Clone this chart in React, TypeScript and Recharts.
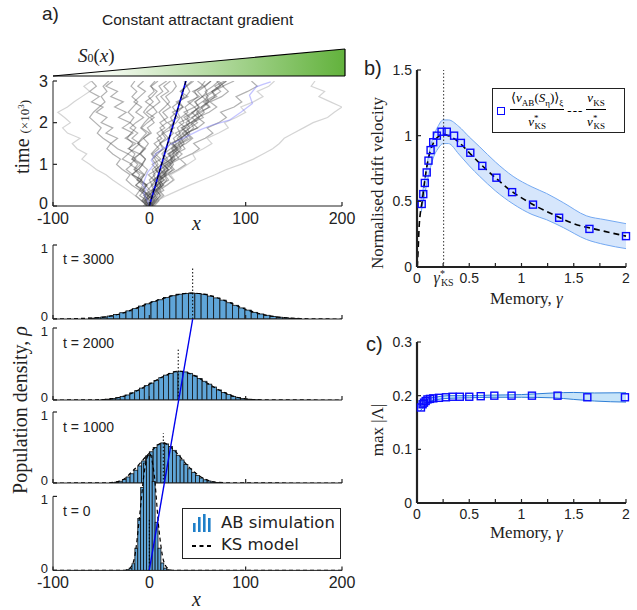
import React from 'react';
import { ComposedChart, Line, Bar, Area, Scatter, XAxis, YAxis, ReferenceLine } from 'recharts';

const SANS = '"Liberation Sans", Arial, sans-serif';
const SERIF = '"Liberation Serif", "DejaVu Serif", serif';
const INK = '#222';

// ---- panel a, top: trajectories (x vs time in 10^3) ----
const trajTimes = [0, 0.125, 0.25, 0.375, 0.5, 0.625, 0.75, 0.875, 1, 1.125, 1.25, 1.375, 1.5, 1.625, 1.75, 1.875, 2, 2.125, 2.25, 2.375, 2.5, 2.625, 2.75, 2.875, 3];
const traj01 = [0, -5, 3, -8, -2, -12, -6, -15, -9, -18, -10, -22, -14, -25, -17, -28, -20, -32, -24, -36, -27, -40, -33, -45, -38];
const traj02 = [2, 8, 4, 12, 7, 16, 10, 20, 14, 24, 19, 28, 22, 33, 27, 38, 31, 42, 36, 47, 40, 52, 45, 57, 50];
const traj03 = [-3, 2, -6, 1, -4, 5, -1, 8, 3, 12, 6, 16, 11, 20, 15, 26, 19, 30, 24, 35, 28, 40, 32, 38, 44];
const traj04 = [5, 10, 6, 15, 11, 20, 16, 26, 21, 31, 27, 37, 33, 43, 38, 50, 44, 56, 51, 63, 58, 70, 65, 77, 72];
const traj05 = [-6, -2, -10, -5, -14, -8, -18, -12, -7, -16, -10, -4, -12, -6, 0, -8, -2, 5, -3, 4, -4, 3, 8, 1, 6];
const traj06 = [1, 6, 12, 7, 15, 10, 19, 24, 18, 28, 34, 27, 38, 45, 39, 50, 57, 50, 62, 70, 63, 75, 82, 76, 88];
const traj07 = [-1, -6, -1, -8, -14, -8, -17, -24, -18, -28, -22, -33, -40, -33, -45, -38, -50, -44, -55, -48, -60, -52, -62, -55, -60];
const traj08 = [3, 9, 15, 10, 18, 25, 20, 30, 38, 32, 44, 52, 46, 58, 66, 60, 72, 80, 74, 88, 96, 90, 102, 112, 106];
const traj09 = [-4, 0, -5, 3, 9, 4, 12, 6, 14, 9, 3, 10, 5, 13, 8, 16, 11, 19, 14, 22, 17, 12, 20, 15, 22];
const traj10 = [0, -4, 2, 8, 3, 11, 17, 12, 20, 26, 21, 29, 24, 32, 39, 33, 42, 36, 45, 52, 47, 55, 50, 58, 64];
const traj11 = [0, 8, 18, 30, 42, 55, 68, 80, 95, 108, 118, 128, 135, 140, 150, 160, 170, 185, 192, 200, 188, 176, 182, 168, 172];
const traj12 = [0, -8, -15, -22, -30, -38, -45, -55, -62, -70, -65, -75, -80, -72, -85, -90, -82, -88, -95, -85, -78, -70, -62, -68, -60];
const traj13 = [0, 5, -2, 6, 12, 6, 14, 20, 14, 22, 30, 24, 32, 40, 34, 42, 50, 44, 54, 62, 56, 66, 74, 68, 78];
const traj14 = [-2, -8, -3, -10, -4, -12, -18, -12, -20, -14, -22, -16, -10, -18, -12, -20, -14, -6, -14, -8, -16, -10, -4, -12, -6];
const traj15 = [4, 0, 7, 2, 9, 15, 9, 17, 23, 16, 24, 30, 24, 33, 40, 34, 43, 50, 44, 54, 61, 55, 65, 72, 80];
const traj16 = [1, 7, 14, 9, 18, 26, 22, 32, 40, 48, 45, 56, 65, 60, 72, 82, 78, 90, 100, 95, 108, 118, 112, 124, 130];
const traj17 = [0, 3, -1, 4, 8, 5, 10, 7, 12, 16, 13, 18, 22, 19, 25, 21, 28, 32, 29, 35, 31, 38, 42, 39, 46];
const traj18 = [-2, -5, -1, -6, -3, -9, -5, -11, -7, -4, -9, -5, -1, -6, 2, -2, 5, 1, 8, 4, 11, 7, 14, 10, 18];
const traj19 = [1, 4, 9, 6, 12, 9, 15, 19, 16, 22, 26, 23, 29, 34, 31, 37, 42, 39, 46, 51, 48, 55, 60, 57, 64];
const traj20 = [0, -3, 2, -2, 3, 0, 6, 3, 9, 6, 2, 7, 12, 8, 15, 11, 18, 14, 10, 16, 21, 17, 24, 28, 25];
const traj21 = [2, 6, 3, 9, 14, 11, 18, 15, 22, 27, 24, 31, 36, 33, 40, 46, 43, 51, 57, 54, 62, 68, 65, 73, 80];
const traj22 = [-3, -7, -4, -10, -7, -13, -10, -16, -12, -18, -15, -21, -17, -23, -19, -14, -20, -16, -22, -17, -12, -18, -13, -19, -15];
const traj23 = [4, 1, 6, 3, 8, 13, 10, 16, 12, 19, 15, 22, 28, 25, 32, 29, 36, 33, 40, 37, 44, 50, 47, 54, 58];
const traj24 = [-1, 3, 0, 5, 2, 7, 4, 10, 7, 3, 9, 14, 11, 17, 13, 20, 25, 22, 28, 24, 31, 36, 33, 39, 36];
const traj25 = [0, -4, -1, -7, -3, -9, -5, -2, -8, -4, -10, -6, -12, -8, -3, -9, -5, 0, -6, -2, 4, -1, 5, 2, 9];
const traj26 = [3, 7, 11, 8, 14, 18, 15, 21, 25, 22, 28, 33, 30, 37, 42, 39, 46, 52, 49, 56, 62, 59, 67, 74, 70];
const traj27 = [-2, -8, -14, -10, -18, -24, -20, -28, -34, -30, -38, -44, -40, -48, -54, -50, -56, -62, -58, -52, -46, -50, -44, -48, -42];
const traj28 = [1, 5, 2, 7, 12, 8, 15, 11, 18, 24, 20, 27, 33, 29, 36, 42, 38, 45, 51, 47, 55, 61, 58, 66, 72];
const trajectories = [traj01, traj02, traj03, traj04, traj05, traj06, traj07, traj08, traj09, traj10, traj11, traj12, traj13, traj14,
  traj15, traj16, traj17, traj18, traj19, traj20, traj21, traj22, traj23, traj24, traj25, traj26, traj27, traj28];
const faintTraj = [10, 11, 15];

const blueTrajX = [0, -2, -6, -3, -7, -2, 5, 2, 7, 14, 24, 38, 52, 66, 83, 95, 107, 104, 111, 118, 126];
const blueTrajT = [0, 0.14, 0.3, 0.4, 0.5, 0.8, 1.0, 1.1, 1.26, 1.38, 1.5, 1.66, 1.82, 1.95, 2.06, 2.25, 2.46, 2.66, 2.86, 2.92, 2.98];
const driftTopX = [0, 38];
const driftTopT = [0, 3];

const gradX = [-100, 203];
const gradS = [0, 1];

// ---- panel a, histograms ----
const h3000x = [-60, -53.5, -47, -40.5, -34, -27.5, -21, -14.5, -8, -1.5, 5, 11.5, 18, 24.5, 31, 37.5, 44, 50.5, 57, 63.5, 70, 76.5, 83, 89.5, 96, 102.5, 109, 115.5, 122, 128.5, 135, 141.5, 148, 154.5];
const h3000y = [0.012, 0.018, 0.028, 0.04, 0.06, 0.085, 0.11, 0.14, 0.175, 0.205, 0.235, 0.26, 0.29, 0.315, 0.335, 0.345, 0.35, 0.345, 0.335, 0.31, 0.285, 0.255, 0.22, 0.185, 0.15, 0.12, 0.09, 0.068, 0.05, 0.035, 0.024, 0.016, 0.01, 0.006];
const h2000x = [-47.5, -42.5, -37.5, -32.5, -27.5, -22.5, -17.5, -12.5, -7.5, -2.5, 2.5, 7.5, 12.5, 17.5, 22.5, 27.5, 32.5, 37.5, 42.5, 47.5, 52.5, 57.5, 62.5, 67.5, 72.5, 77.5, 82.5, 87.5, 92.5, 97.5, 102.5, 107.5, 112.5];
const h2000y = [0.005, 0.012, 0.02, 0.032, 0.048, 0.07, 0.1, 0.13, 0.165, 0.2, 0.235, 0.27, 0.31, 0.345, 0.37, 0.39, 0.4, 0.39, 0.37, 0.335, 0.3, 0.26, 0.22, 0.18, 0.14, 0.105, 0.075, 0.05, 0.032, 0.02, 0.012, 0.006, 0.003];
const h1000x = [-38, -34, -30, -26, -22, -18, -14, -10, -6, -2, 2, 6, 10, 14, 18, 22, 26, 30, 34, 38, 42, 46, 50, 54, 58, 62, 66, 70, 74];
const h1000y = [0.005, 0.012, 0.025, 0.05, 0.085, 0.13, 0.18, 0.24, 0.31, 0.38, 0.44, 0.5, 0.54, 0.565, 0.55, 0.515, 0.46, 0.39, 0.325, 0.26, 0.2, 0.15, 0.105, 0.07, 0.045, 0.028, 0.016, 0.008, 0.004];
const h0x = [-22.5, -19.5, -16.5, -13.5, -10.5, -7.5, -4.5, -1.5, 1.5, 4.5, 7.5, 10.5, 13.5, 16.5, 19.5];
const h0y = [0.01, 0.03, 0.09, 0.3, 0.7, 1.12, 1.45, 1.55, 1.55, 1.2, 0.65, 0.3, 0.1, 0.03, 0.01];

const ks3000x = [-100, -90, -70, -50, -30, -10, 10, 30, 45, 60, 80, 100, 120, 140, 160, 180, 200];
const ks3000y = [0, 0.002, 0.008, 0.022, 0.07, 0.165, 0.26, 0.33, 0.35, 0.325, 0.24, 0.13, 0.055, 0.018, 0.005, 0.001, 0];
const ks2000x = [-100, -60, -40, -20, 0, 15, 30, 45, 60, 80, 100, 120, 200];
const ks2000y = [0, 0.002, 0.015, 0.085, 0.22, 0.33, 0.4, 0.35, 0.235, 0.09, 0.015, 0.002, 0];
const ks1000x = [-100, -45, -30, -15, 0, 14, 28, 40, 55, 70, 90, 200];
const ks1000y = [0, 0.002, 0.03, 0.2, 0.42, 0.565, 0.43, 0.24, 0.075, 0.01, 0.001, 0];
const ks0x = [-100, -25, -20, -15, -10, -5, 0, 5, 10, 15, 20, 25, 200];
const ks0y = [0, 0, 0.03, 0.2, 0.75, 1.35, 1.58, 1.3, 0.55, 0.12, 0.02, 0, 0];

const histMeans = [45, 30, 14.5, 0];
const driftHistX = [0, 45];
const driftHistT = [0, 3000];

// ---- panel b ----
const bSqG = [0.045, 0.06, 0.075, 0.093, 0.11, 0.13, 0.155, 0.19, 0.235, 0.285, 0.355, 0.42, 0.51, 0.625, 0.76, 0.91, 1.11, 1.36, 1.65, 2.0];
const bSqV = [0.48, 0.555, 0.64, 0.72, 0.81, 0.89, 0.95, 1.0, 1.03, 1.03, 1.0, 0.945, 0.87, 0.77, 0.68, 0.57, 0.475, 0.375, 0.29, 0.235];
const bKsG = [0.003, 0.012, 0.02, 0.035, 0.05, 0.065, 0.08, 0.1, 0.13, 0.16, 0.2, 0.25, 0.3, 0.4, 0.5, 0.6, 0.75, 0.9, 1.1, 1.3, 1.5, 1.75, 2.0];
const bKsV = [0, 0.15, 0.3, 0.43, 0.5, 0.6, 0.69, 0.79, 0.89, 0.95, 0.99, 1.01, 1.0, 0.95, 0.87, 0.79, 0.68, 0.58, 0.48, 0.4, 0.33, 0.28, 0.235];
const bBandG = [0.04, 0.06, 0.08, 0.1, 0.13, 0.16, 0.2, 0.25, 0.3, 0.4, 0.5, 0.6, 0.75, 0.92, 1.1, 1.24, 1.4, 1.62, 1.8, 2.0];
const bBandLo = [0.42, 0.5, 0.58, 0.66, 0.76, 0.84, 0.9, 0.94, 0.94, 0.86, 0.77, 0.69, 0.58, 0.48, 0.4, 0.36, 0.3, 0.21, 0.17, 0.14];
const bBandHi = [0.52, 0.6, 0.7, 0.8, 0.92, 1.0, 1.07, 1.12, 1.12, 1.07, 0.99, 0.915, 0.8, 0.69, 0.61, 0.56, 0.49, 0.39, 0.36, 0.33];
const gammaStar = 0.255;

// ---- panel c ----
const cSqG = [0.038, 0.054, 0.067, 0.083, 0.1, 0.124, 0.156, 0.21, 0.277, 0.34, 0.41, 0.5, 0.61, 0.74, 0.905, 1.1, 1.345, 1.63, 1.99];
const cSqV = [0.178, 0.184, 0.187, 0.19, 0.193, 0.194, 0.195, 0.196, 0.197, 0.198, 0.198, 0.198, 0.199, 0.2, 0.2, 0.2, 0.2, 0.197, 0.197];
const cBandG = [0.03, 0.05, 0.08, 0.12, 0.2, 0.3, 0.5, 0.7, 1.0, 1.3, 1.5, 1.7, 2.0];
const cBandLo = [0.171, 0.176, 0.183, 0.189, 0.193, 0.195, 0.196, 0.197, 0.197, 0.196, 0.193, 0.19, 0.188];
const cBandHi = [0.18, 0.186, 0.191, 0.195, 0.198, 0.2, 0.2, 0.201, 0.202, 0.205, 0.206, 0.205, 0.2055];

const xTicksA = [-100, 0, 100, 200];
const gTicks = [0, 0.25, 0.5, 0.75, 1, 1.25, 1.5, 1.75, 2];

// inward tick helpers
const xTick = (m: number, fs: number, label: (v: number) => React.ReactNode, noLine?: (v: number) => boolean) => (p: any) => {
  const ay = p.y - m;
  const val = p.payload.value;
  const lab = label(val);
  return (
    <g>
      {!(noLine && noLine(val)) && <line x1={p.x} x2={p.x} y1={ay} y2={ay - 4} stroke={INK} strokeWidth={1.2} />}
      {lab !== null && (
        <text x={p.x} y={ay + fs + 2} textAnchor="middle" fontFamily={SANS} fontSize={fs} fill={INK}>{lab}</text>
      )}
    </g>
  );
};
// nudge: shifts a label off its tick, used where stacked axes put 0 and 1 next to each other
const yTick = (m: number, fs: number, label: (v: number) => string, nudge: (v: number) => number = () => 0) => (p: any) => {
  const ax = p.x + m;
  const val = p.payload.value;
  return (
    <g>
      <line x1={ax} x2={ax + 4} y1={p.y} y2={p.y} stroke={INK} strokeWidth={1.2} />
      <text x={ax - 5} y={p.y + fs * 0.36 + nudge(val)} textAnchor="end" fontFamily={SANS} fontSize={fs} fill={INK}>{label(val)}</text>
    </g>
  );
};

const abs = (l: number, t: number): React.CSSProperties => ({ position: 'absolute', left: l, top: t });

function GradientWedge() {
  const data = gradX.map((x, i) => ({ x, s: gradS[i] }));
  return (
    <div style={abs(0, 39)}>
      <ComposedChart width={360} height={47} data={data} margin={{ top: 10, right: 15, bottom: 10, left: 53 }}>
        <defs>
          <linearGradient id="sgrad" x1="0" y1="0" x2="1" y2="0">
            <stop offset="0%" stopColor="#ffffff" />
            <stop offset="20%" stopColor="#f2f9ee" />
            <stop offset="100%" stopColor="#62b23c" />
          </linearGradient>
        </defs>
        <XAxis type="number" dataKey="x" domain={[-100, 203]} hide />
        <YAxis type="number" domain={[0, 1]} hide />
        <Area dataKey="s" type="linear" fill="url(#sgrad)" fillOpacity={1} stroke="#000" strokeWidth={1.2} isAnimationActive={false} />
        <ReferenceLine segment={[{ x: 203, y: 0 }, { x: 203, y: 1 }]} stroke="#000" strokeWidth={1.2} />
        <ReferenceLine y={0} stroke="#000" strokeWidth={1} />
      </ComposedChart>
    </div>
  );
}

function TrajPanel() {
  return (
    <div style={abs(0, 40)}>
      <ComposedChart width={360} height={200} margin={{ top: 41, right: 18, bottom: 4, left: 0 }} style={{ overflow: 'visible' }}>
        <XAxis type="number" dataKey="x" domain={[-100, 200]} ticks={xTicksA} interval={0} height={30} tickSize={0} tickMargin={6}
          tick={xTick(6, 16, (x) => String(x))} axisLine={{ stroke: INK }} allowDataOverflow />
        <YAxis type="number" dataKey="t" domain={[0, 3]} ticks={[0, 1, 2, 3]} interval={0} width={53} tickSize={0} tickMargin={6}
          tick={yTick(6, 16, (t) => String(t), (t) => (t === 0 ? -3 : 0))} axisLine={{ stroke: INK }} allowDataOverflow />
        {trajectories.map((tr, i) => (
          <Line key={i} data={tr.map((x, j) => ({ x, t: trajTimes[j] }))} dataKey="t" type="linear" dot={false}
            stroke={faintTraj.includes(i) ? '#b0b0b0' : '#444'} strokeOpacity={faintTraj.includes(i) ? 0.55 : 0.42} strokeWidth={1.2}
            isAnimationActive={false} />
        ))}
        <Line data={blueTrajX.map((x, j) => ({ x, t: blueTrajT[j] }))} dataKey="t" type="linear" dot={false}
          stroke="#7b7bff" strokeOpacity={0.45} strokeWidth={1.3} isAnimationActive={false} />
        <Line data={driftTopX.map((x, j) => ({ x, t: driftTopT[j] }))} dataKey="t" dot={false} stroke="#0000ee" strokeWidth={1.6} isAnimationActive={false} />
        <Line data={driftTopX.map((x, j) => ({ x, t: driftTopT[j] }))} dataKey="t" dot={false} stroke="#000" strokeWidth={1} strokeDasharray="4 3" isAnimationActive={false} />
      </ComposedChart>
    </div>
  );
}

type HistProps = { cx: number[]; cy: number[]; bin: number; kx: number[]; ky: number[]; mean: number; y1: number; y0: number; yMax: number; labels: boolean };

function HistPanel({ cx, cy, bin, kx, ky, mean, y1, y0, yMax, labels }: HistProps) {
  const unit = y0 - y1;
  const plotTop = y0 - yMax * unit;
  const data = cx.map((x, i) => ({ x, rho: cy[i] }));
  const ks = kx.map((x, i) => ({ x, rho: ky[i] }));
  const h = y0 - plotTop + 10 + 30;
  const w = bin * (289 / 300);
  return (
    <div style={abs(0, plotTop - 10)}>
      <ComposedChart width={360} height={h} data={data} barCategoryGap={0} barGap={0}
        margin={{ top: 10, right: 18, bottom: 0, left: 0 }} style={{ overflow: 'visible' }}>
        <XAxis type="number" dataKey="x" domain={[-100, 200]} ticks={xTicksA} interval={0} height={30} tickSize={0} tickMargin={6}
          tick={xTick(6, 16, (x) => (labels ? String(x) : null))} axisLine={{ stroke: INK }} allowDataOverflow />
        <YAxis type="number" dataKey="rho" domain={[0, yMax]} ticks={[0, 1]} interval={0} width={53} tickSize={0} tickMargin={6}
          tick={yTick(6, 13, (t) => String(t), (t) => (t === 0 ? (labels ? -2 : -3) : 3))} axisLine={false} allowDataOverflow />
        <Bar dataKey="rho" isAnimationActive={false}
          shape={(p: any) => (
            <rect x={p.x + p.width / 2 - w / 2} y={p.y} width={w} height={Math.max(p.height, 0)}
              fill="#5fa5d8" stroke="#111" strokeWidth={0.8} />
          )} />
        <Line data={ks} dataKey="rho" type="monotone" dot={false} stroke="#000" strokeWidth={1.2} strokeDasharray="4 3" isAnimationActive={false} />
        <ReferenceLine segment={[{ x: mean, y: 0 }, { x: mean, y: 0.7 }]} stroke="#000" strokeWidth={1} strokeDasharray="1.5 2" />
        <ReferenceLine segment={[{ x: -100, y: 0 }, { x: -100, y: 1 }]} stroke={INK} strokeWidth={1} />
      </ComposedChart>
    </div>
  );
}

function DriftOverlay() {
  const data = driftHistX.map((x, i) => ({ x, t: driftHistT[i] }));
  return (
    <div style={abs(0, 309)}>
      <ComposedChart width={360} height={271} data={data} margin={{ top: 10, right: 18, bottom: 10, left: 53 }}>
        <XAxis type="number" dataKey="x" domain={[-100, 200]} hide />
        <YAxis type="number" dataKey="t" domain={[0, 3000]} hide />
        <Line dataKey="t" dot={false} stroke="#0000ee" strokeWidth={1.4} isAnimationActive={false} />
      </ComposedChart>
    </div>
  );
}

const gammaStarLabel = (
  <tspan fontFamily={SERIF}>
    <tspan fontStyle="italic" fontSize={16}>γ</tspan>
    <tspan fontSize={10} dy={-6}>*</tspan>
    <tspan fontSize={10} dx={-4} dy={9}>KS</tspan>
  </tspan>
);

function PanelB() {
  const band = bBandG.map((g, i) => ({ g, band: [bBandLo[i], bBandHi[i]] }));
  const ks = bKsG.map((g, i) => ({ g, v: bKsV[i] }));
  const sq = bSqG.map((g, i) => ({ g, v: bSqV[i] }));
  const ticks = [0, 0.25, gammaStar, 0.5, 0.75, 1, 1.25, 1.5, 1.75, 2];
  return (
    <div style={abs(360, 50)}>
      <ComposedChart width={277} height={260} data={band} margin={{ top: 20, right: 11, bottom: 13, left: 0 }} style={{ overflow: 'visible' }}>
        <XAxis type="number" dataKey="g" domain={[0, 2]} ticks={ticks} interval={0} height={30} tickSize={0} tickMargin={6}
          tick={xTick(6, 14, (x) => (x === gammaStar ? gammaStarLabel : [0, 0.5, 1, 1.5, 2].includes(x) ? String(x) : null), (x) => x === gammaStar)}
          axisLine={{ stroke: INK, strokeWidth: 2.2 }} />
        <YAxis type="number" dataKey="v" domain={[0, 1.5]} ticks={[0, 0.5, 1, 1.5]} interval={0} width={57} tickSize={0} tickMargin={6}
          tick={yTick(6, 14, (t) => String(t))} axisLine={{ stroke: INK, strokeWidth: 2.2 }} />
        <Area dataKey="band" type="monotone" fill="#d6e6fc" fillOpacity={1} stroke="#74a9f2" strokeWidth={1} isAnimationActive={false} />
        <ReferenceLine segment={[{ x: gammaStar, y: 0 }, { x: gammaStar, y: 1.5 }]} stroke="#333" strokeWidth={1} strokeDasharray="1.5 2" />
        <Line data={ks} dataKey="v" type="monotone" dot={false} stroke="#000" strokeWidth={1.6} strokeDasharray="6 4" isAnimationActive={false} />
        <Scatter data={sq} isAnimationActive={false}
          shape={(p: any) => <rect x={p.cx - 3.5} y={p.cy - 3.5} width={7} height={7} fill="none" stroke="#0a0aff" strokeWidth={1.4} />} />
      </ComposedChart>
    </div>
  );
}

function PanelC() {
  const band = cBandG.map((g, i) => ({ g, band: [cBandLo[i], cBandHi[i]] }));
  const sq = cSqG.map((g, i) => ({ g, v: cSqV[i] }));
  return (
    <div style={abs(360, 320)}>
      <ComposedChart width={277} height={230} data={band} margin={{ top: 22, right: 11, bottom: 17, left: 0 }} style={{ overflow: 'visible' }}>
        <XAxis type="number" dataKey="g" domain={[0, 2]} ticks={gTicks} interval={0} height={30} tickSize={0} tickMargin={6}
          tick={xTick(6, 14, (x) => ([0, 0.5, 1, 1.5, 2].includes(x) ? String(x) : null))} axisLine={{ stroke: INK, strokeWidth: 2.2 }} />
        <YAxis type="number" dataKey="v" domain={[0, 0.3]} ticks={[0, 0.1, 0.2, 0.3]} interval={0} width={57} tickSize={0} tickMargin={6}
          tick={yTick(6, 14, (t) => String(t))} axisLine={{ stroke: INK, strokeWidth: 2.2 }} />
        <Area dataKey="band" type="monotone" fill="#c6e4f9" fillOpacity={1} stroke="#2f7fd6" strokeWidth={1} isAnimationActive={false} />
        <Scatter data={sq} isAnimationActive={false}
          shape={(p: any) => <rect x={p.cx - 3.5} y={p.cy - 3.5} width={7} height={7} fill="none" stroke="#0a0aff" strokeWidth={1.4} />} />
      </ComposedChart>
    </div>
  );
}

const txt = (l: number, t: number, extra: React.CSSProperties = {}): React.CSSProperties => ({
  position: 'absolute', left: l, top: t, whiteSpace: 'nowrap', lineHeight: 1, color: INK, ...extra,
});
const rot = (cx: number, cy: number, extra: React.CSSProperties = {}): React.CSSProperties => ({
  position: 'absolute', left: cx, top: cy, whiteSpace: 'nowrap', lineHeight: 1, color: INK,
  transform: 'translate(-50%, -50%) rotate(-90deg)', ...extra,
});

const Frac = ({ num, den }: { num: React.ReactNode; den: React.ReactNode }) => (
  <span style={{ display: 'inline-flex', flexDirection: 'column', alignItems: 'center', verticalAlign: 'middle' }}>
    <span style={{ borderBottom: '1px solid #000', padding: '0 1px 2px' }}>{num}</span>
    <span style={{ paddingTop: 2 }}>{den}</span>
  </span>
);
const sub = (s: string) => <sub style={{ fontSize: 9, fontStyle: 'normal' }}>{s}</sub>;
const vStar = (
  <span><i>v</i><sup style={{ fontSize: 9 }}>*</sup><sub style={{ fontSize: 9, marginLeft: -4 }}>KS</sub></span>
);

export default function App() {
  const histLabel = (t: number) => ({ position: 'absolute' as const, left: 63, top: t, fontFamily: SANS, fontSize: 14, color: INK, whiteSpace: 'nowrap' as const });
  return (
    <div style={{ position: 'absolute', left: 0, top: 0, width: 637, height: 610, background: '#fff', overflow: 'hidden' }}>
      <GradientWedge />
      <TrajPanel />
      <HistPanel cx={h3000x} cy={h3000y} bin={6.5} kx={ks3000x} ky={ks3000y} mean={histMeans[0]} y1={245} y0={319} yMax={1} labels={false} />
      <HistPanel cx={h2000x} cy={h2000y} bin={5} kx={ks2000x} ky={ks2000y} mean={histMeans[1]} y1={328} y0={400} yMax={1} labels={false} />
      <HistPanel cx={h1000x} cy={h1000y} bin={4} kx={ks1000x} ky={ks1000y} mean={histMeans[2]} y1={412} y0={483} yMax={1} labels={false} />
      <HistPanel cx={h0x} cy={h0y} bin={3} kx={ks0x} ky={ks0y} mean={histMeans[3]} y1={496} y0={570} yMax={1.6} labels={true} />
      <DriftOverlay />
      <PanelB />
      <PanelC />

      {/* panel a text */}
      <div style={txt(42, 4, { fontFamily: SANS, fontSize: 19 })}>a)</div>
      <div style={txt(102, 12, { fontFamily: SANS, fontSize: 15.5 })}>Constant attractant gradient</div>
      <div style={txt(78, 46, { fontFamily: SERIF, fontSize: 19 })}><i>S</i><span style={{ fontSize: 12 }}>0</span>(<i>x</i>)</div>
      <div style={rot(22, 137, { fontFamily: SERIF, fontSize: 20 })}>time <span style={{ fontSize: 13 }}>(×10<sup style={{ fontSize: 9 }}>3</sup>)</span></div>
      <div style={txt(192, 213, { fontFamily: SERIF, fontSize: 20, fontStyle: 'italic' })}>x</div>
      <div style={txt(192, 589, { fontFamily: SERIF, fontSize: 20, fontStyle: 'italic' })}>x</div>
      <div style={rot(20, 410, { fontFamily: SERIF, fontSize: 20 })}>Population density, <i>ρ</i></div>
      <div style={histLabel(251)}>t = 3000</div>
      <div style={histLabel(335)}>t = 2000</div>
      <div style={histLabel(419)}>t = 1000</div>
      <div style={histLabel(503)}>t = 0</div>

      {/* legend a */}
      <div style={{ position: 'absolute', left: 182, top: 508, width: 157, height: 49, border: '1px solid #222', background: '#fff' }}>
        <svg width={30} height={48} style={{ position: 'absolute', left: 6, top: 0 }}>
          <rect x={4} y={14} width={2.6} height={9} fill="#1f7fc8" />
          <rect x={9} y={8} width={2.6} height={15} fill="#1f7fc8" />
          <rect x={14} y={5} width={2.6} height={18} fill="#1f7fc8" />
          <rect x={19} y={9} width={2.6} height={14} fill="#1f7fc8" />
          <line x1={3} x2={24} y1={37} y2={37} stroke="#000" strokeWidth={2.2} strokeDasharray="4 3.5" />
        </svg>
        <div style={txt(38, 6, { fontFamily: '"DejaVu Sans", sans-serif', fontSize: 16.5 })}>AB simulation</div>
        <div style={txt(38, 28, { fontFamily: '"DejaVu Sans", sans-serif', fontSize: 16.5 })}>KS model</div>
      </div>

      {/* panel b text */}
      <div style={txt(364, 58, { fontFamily: SANS, fontSize: 20 })}>b)</div>
      <div style={rot(377, 183, { fontFamily: SERIF, fontSize: 17 })}>Normalised drift velocity</div>
      <div style={txt(490, 290, { fontFamily: SERIF, fontSize: 17 })}>Memory, <i>γ</i></div>
      <div style={{ position: 'absolute', left: 492, top: 88, width: 133, height: 45, border: '1px solid #222', background: '#fff',
        fontFamily: SERIF, fontSize: 13, display: 'flex', alignItems: 'center', paddingLeft: 4, boxSizing: 'border-box', gap: 3 }}>
        <span style={{ display: 'inline-block', width: 6, height: 6, border: '1.6px solid #0a0aff', marginRight: 2 }} />
        <Frac num={<span>⟨<i>v</i>{sub('AB')}(<i>S</i>{sub('η')})⟩{sub('ξ')}</span>} den={vStar} />
        <span style={{ letterSpacing: 1 }}>---</span>
        <Frac num={<span><i>v</i>{sub('KS')}</span>} den={vStar} />
      </div>

      {/* panel c text */}
      <div style={txt(366, 334, { fontFamily: SANS, fontSize: 20 })}>c)</div>
      <div style={rot(377, 430, { fontFamily: SERIF, fontSize: 17 })}>max |<span>Λ</span>|</div>
      <div style={txt(490, 524, { fontFamily: SERIF, fontSize: 17 })}>Memory, <i>γ</i></div>
    </div>
  );
}
